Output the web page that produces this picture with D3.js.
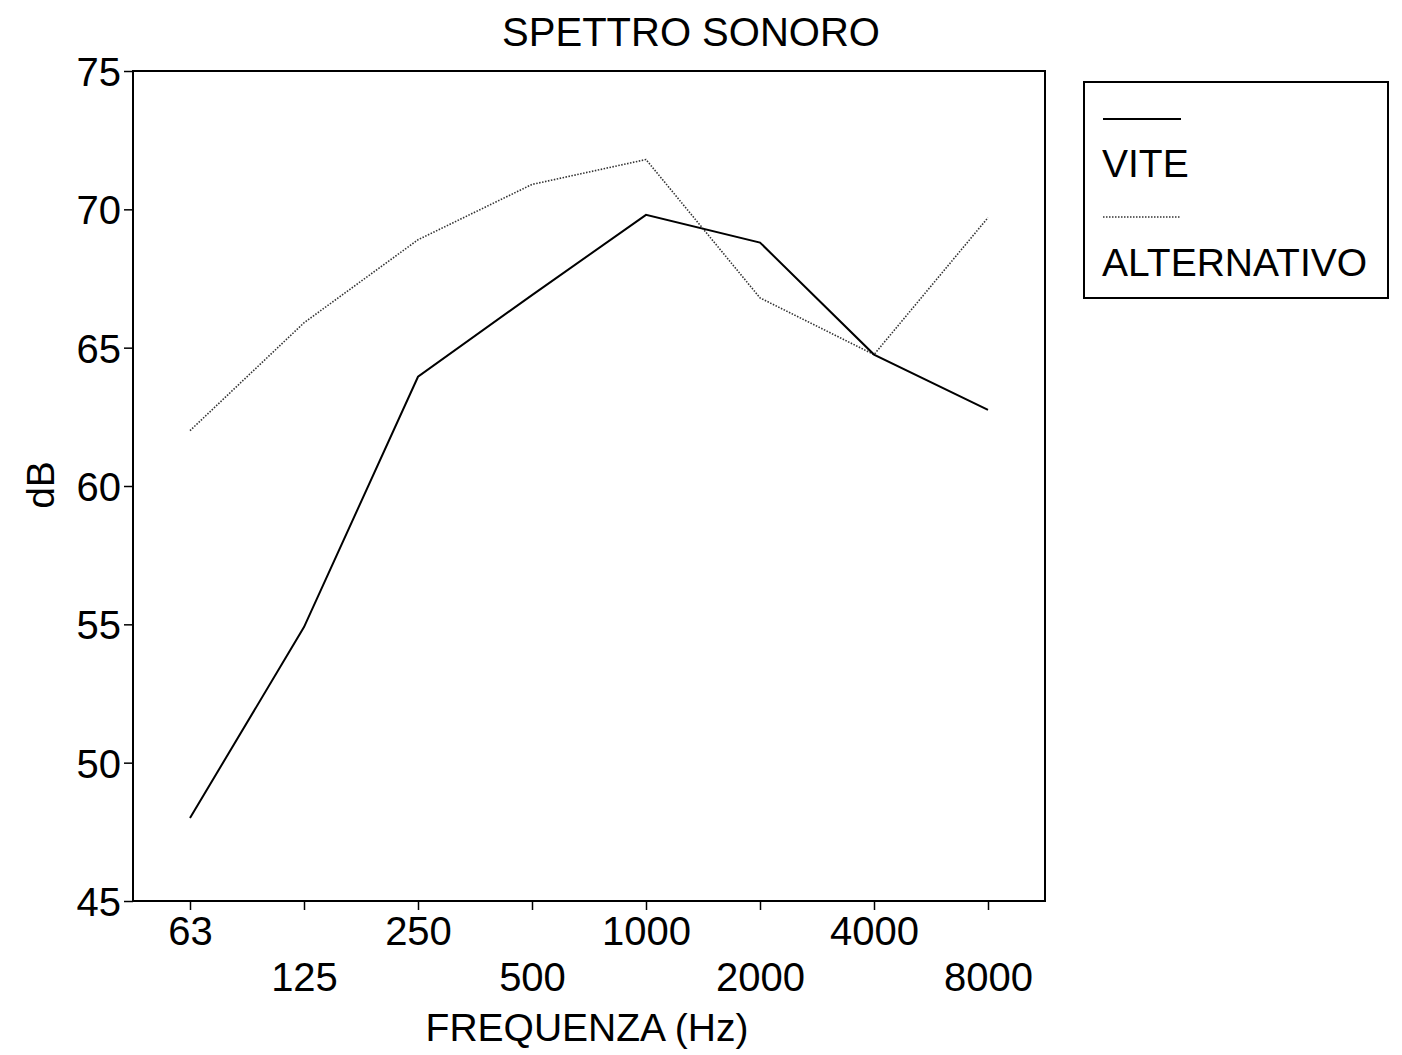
<!DOCTYPE html>
<meta charset="utf-8">
<style>
  body { margin: 0; background: #fff; }
  svg { font-family: "Liberation Sans", Arial, sans-serif; }
</style>
<svg width="1402" height="1055"></svg>
<script src="https://d3js.org/d3.v7.min.js"></script>
<script>

var frequencies = ["63", "125", "250", "500", "1000", "2000", "4000", "8000"];
var vite = [48.0, 54.9, 63.95, 66.9, 69.8, 68.8, 64.75, 62.75];
var alternativo = [62.0, 65.9, 68.9, 70.9, 71.8, 66.8, 64.75, 69.7];
var yTicks = [45, 50, 55, 60, 65, 70, 75];

var svg = d3.select("svg");
var plotLeft = 133, plotRight = 1045, plotTop = 71, plotBottom = 901;

var x = d3.scalePoint().domain(frequencies).range([plotLeft, plotRight]).padding(0.5);
var y = d3.scaleLinear().domain([45, 75]).range([plotBottom, plotTop]);

// frame
svg.append("rect")
    .attr("x", plotLeft).attr("y", plotTop)
    .attr("width", plotRight - plotLeft).attr("height", plotBottom - plotTop)
    .attr("fill", "none").attr("stroke", "#000").attr("stroke-width", 2);

// y axis
var yAxis = svg.append("g")
    .attr("transform", "translate(" + plotLeft + ",0)")
    .call(d3.axisLeft(y).tickValues(yTicks).tickSize(9).tickPadding(3));
yAxis.select(".domain").remove();
yAxis.selectAll("line").attr("stroke-width", 1.5);
yAxis.selectAll("text").attr("font-size", 40).attr("font-family", "Liberation Sans, Arial, sans-serif")
    .attr("fill", "#000").attr("dy", "0.36em");

// x axis, labels staggered on two rows
var xAxis = svg.append("g")
    .attr("transform", "translate(0," + plotBottom + ")")
    .call(d3.axisBottom(x).tickSize(9).tickPadding(6));
xAxis.select(".domain").remove();
xAxis.selectAll("line").attr("stroke-width", 1.5);
xAxis.selectAll("text")
    .attr("font-size", 40).attr("font-family", "Liberation Sans, Arial, sans-serif").attr("fill", "#000")
    .attr("y", function(d, i) { return i % 2 ? 62 : 16; })
    .attr("dy", "0.71em");

// series
var line = d3.line()
    .x(function(d, i) { return x(frequencies[i]); })
    .y(function(d) { return y(d); });

svg.append("path").datum(alternativo)
    .attr("d", line).attr("fill", "none")
    .attr("stroke", "#333").attr("stroke-width", 1.6).attr("stroke-dasharray", "1.5,1.5");

svg.append("path").datum(vite)
    .attr("d", line).attr("fill", "none")
    .attr("stroke", "#000").attr("stroke-width", 2);

// titles
svg.append("text").attr("x", 691).attr("y", 46).attr("text-anchor", "middle")
    .attr("font-size", 40).text("SPETTRO SONORO");
svg.append("text").attr("x", 587).attr("y", 1041).attr("text-anchor", "middle")
    .attr("font-size", 39).text("FREQUENZA (Hz)");
svg.append("text").attr("transform", "translate(54,485) rotate(-90)").attr("text-anchor", "middle")
    .attr("font-size", 39).text("dB");

// legend
var legend = svg.append("g");
legend.append("rect").attr("x", 1084).attr("y", 82).attr("width", 304).attr("height", 216)
    .attr("fill", "none").attr("stroke", "#000").attr("stroke-width", 2);
legend.append("line").attr("x1", 1103).attr("x2", 1181).attr("y1", 119).attr("y2", 119)
    .attr("stroke", "#000").attr("stroke-width", 2);
legend.append("text").attr("x", 1102).attr("y", 177).attr("font-size", 39).text("VITE");
legend.append("line").attr("x1", 1103).attr("x2", 1181).attr("y1", 217).attr("y2", 217)
    .attr("stroke", "#333").attr("stroke-width", 1.6).attr("stroke-dasharray", "1.5,1.5");
legend.append("text").attr("x", 1102).attr("y", 276).attr("font-size", 39).text("ALTERNATIVO");

</script>
